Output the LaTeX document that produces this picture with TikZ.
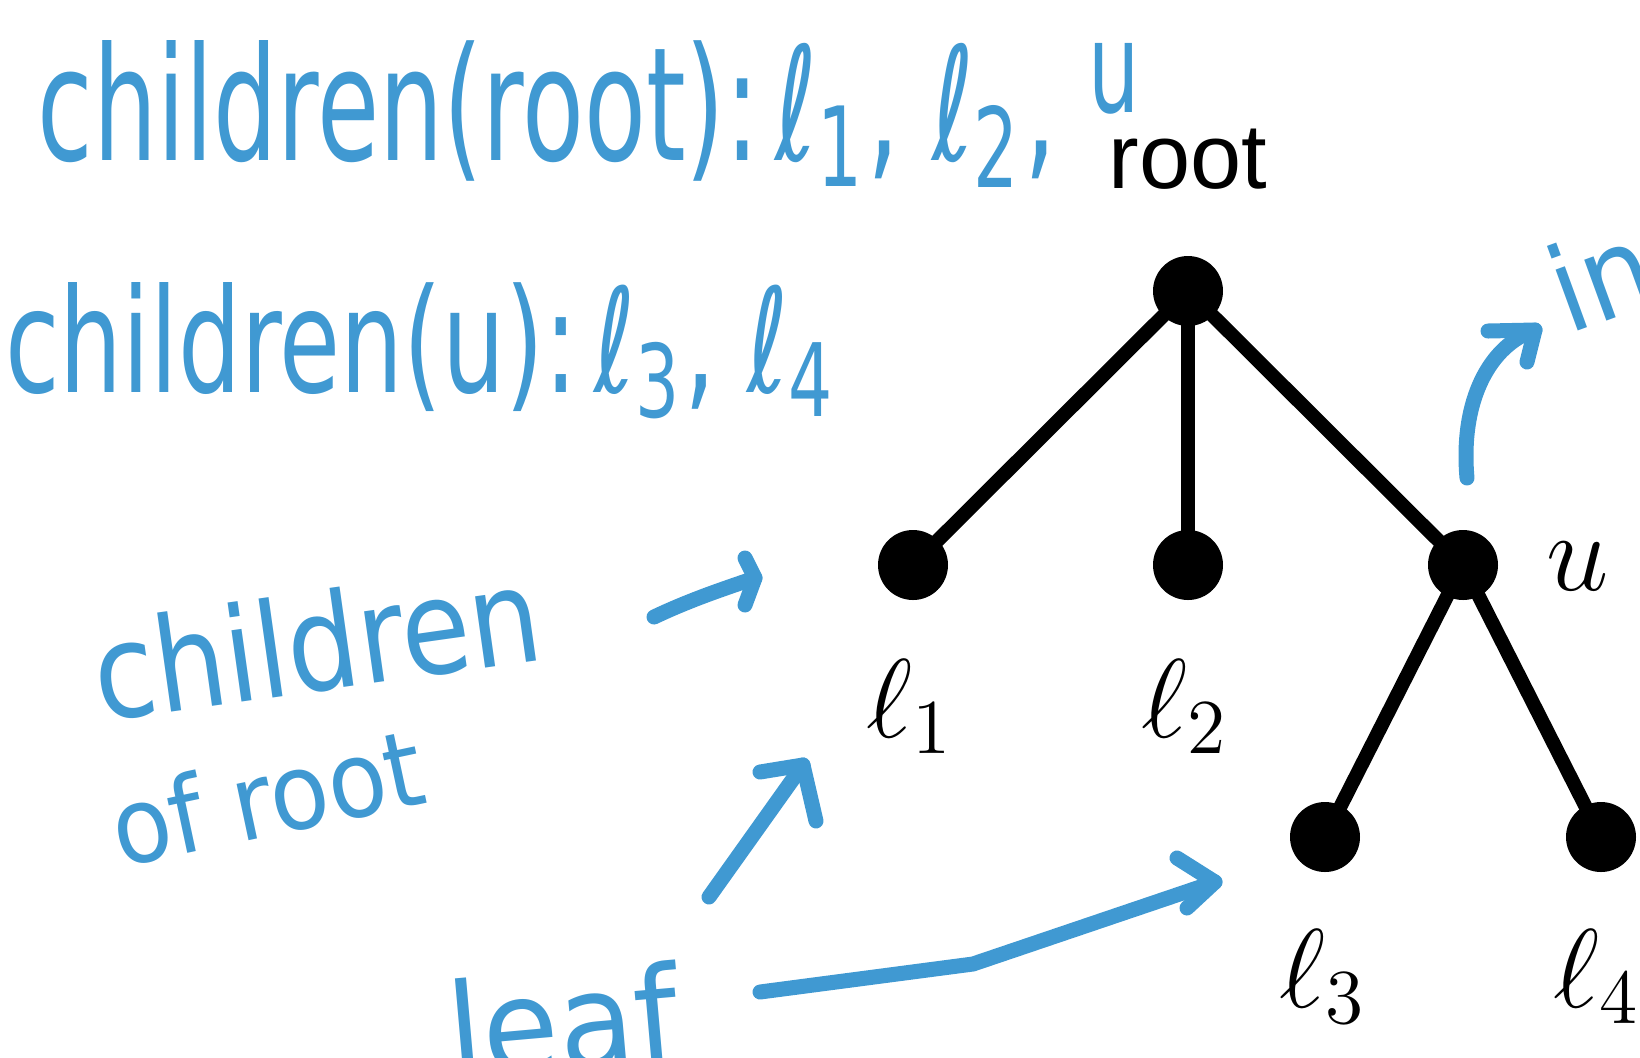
\documentclass[tikz,border=0pt]{standalone}
\usepackage{fontspec}
\usepackage{graphicx}
\newfontfamily\arialf{Liberation Sans}
\newfontfamily\hand{DejaVu Sans}
\definecolor{inkc}{RGB}{64,153,210}
\newcommand{\biglab}[1]{\scalebox{2.7}{\fontsize{20.74}{24}\selectfont$#1$}}
\begin{document}
\begin{tikzpicture}[x=0.5pt,y=-0.5pt,
  vert/.style={circle,fill=black,minimum size=35pt,inner sep=0pt},
  edge/.style={line width=7pt},
  ink/.style={draw=inkc,line width=7.5pt,line cap=round,line join=round},
  handtext/.style={text=inkc,inner sep=0pt,anchor=base west,font=\hand},
  lab/.style={inner sep=0pt,anchor=base}]
\useasboundingbox (0,0) rectangle (1640,1057);
\clip (0,0) rectangle (1640,1057);
% tree
\node[vert] (root) at (1188,291) {};
\node[vert] (l1) at (913,565) {};
\node[vert] (l2) at (1188,565) {};
\node[vert] (u) at (1463,565) {};
\node[vert] (l3) at (1325,837) {};
\node[vert] (l4) at (1601,837) {};
\draw[edge] (root.center) -- (l1.center);
\draw[edge] (root.center) -- (l2.center);
\draw[edge] (root.center) -- (u.center);
\draw[edge] (u.center) -- (l3.center);
\draw[edge] (u.center) -- (l4.center);
% labels
\node[font=\arialf\fontsize{46}{50}\selectfont,anchor=base,inner sep=0pt] (rootlab) at (1188,188) {root};
\node[lab] (l1lab) at (910,737) {\biglab{\ell_1}};
\node[lab] (l2lab) at (1185,737) {\biglab{\ell_2}};
\node[lab] (l3lab) at (1323,1007) {\biglab{\ell_3}};
\node[lab] (l4lab) at (1597,1007) {\biglab{\ell_4}};
\node[lab] (ulab) at (1578,590) {\biglab{u}};
% handwriting
\node[handtext] (t1) at (37,160) {\resizebox{551pt}{60pt}{children(root):\,ℓ\textsubscript{1}, ℓ\textsubscript{2}, \raisebox{0.3em}{\scalebox{0.8}{u}}}};
\node[handtext] (t2) at (5,392) {\resizebox{416pt}{55pt}{children(u):\,ℓ\textsubscript{3}, ℓ\textsubscript{4}}};
\node[handtext,rotate=8] (t3) at (100,722) {\resizebox{225pt}{50pt}{children}};
\node[handtext,rotate=12] (t4) at (120,868) {\resizebox{158pt}{40pt}{of root}};
\node[handtext,rotate=5] (t5) at (452,1080) {\resizebox{115pt}{50pt}{leaf}};
\node[handtext,rotate=20] (t6) at (1568,335) {\resizebox{50pt}{45pt}{in}};
% arrows
\coordinate (a1s) at (654,617);
\coordinate (a1t) at (755,578);
\coordinate (a1b1) at (745,558);
\coordinate (a1b2) at (745,605);
\draw[ink] (a1s) .. controls (690,600) and (720,590) .. (a1t);
\draw[ink] (a1b1) -- (a1t) -- (a1b2);
\coordinate (b1s) at (709,897);
\coordinate (b1t) at (803,765);
\coordinate (b1b1) at (760,772);
\coordinate (b1b2) at (816,821);
\draw[ink] (b1s) -- (b1t);
\draw[ink] (b1b1) -- (b1t) -- (b1b2);
\coordinate (c1s) at (760,992);
\coordinate (c1k) at (973,964);
\coordinate (c1t) at (1215,882);
\coordinate (c1b1) at (1177,858);
\coordinate (c1b2) at (1187,908);
\draw[ink] (c1s) -- (c1k) -- (c1t);
\draw[ink] (c1b1) -- (c1t) -- (c1b2);
\coordinate (d1s) at (1467,478);
\coordinate (d1t) at (1535,330);
\coordinate (d1b1) at (1488,331);
\coordinate (d1b2) at (1527,362);
\draw[ink] (d1s) .. controls (1460,400) and (1490,345) .. (d1t);
\draw[ink] (d1b1) -- (d1t) -- (d1b2);
\end{tikzpicture}
\end{document}
